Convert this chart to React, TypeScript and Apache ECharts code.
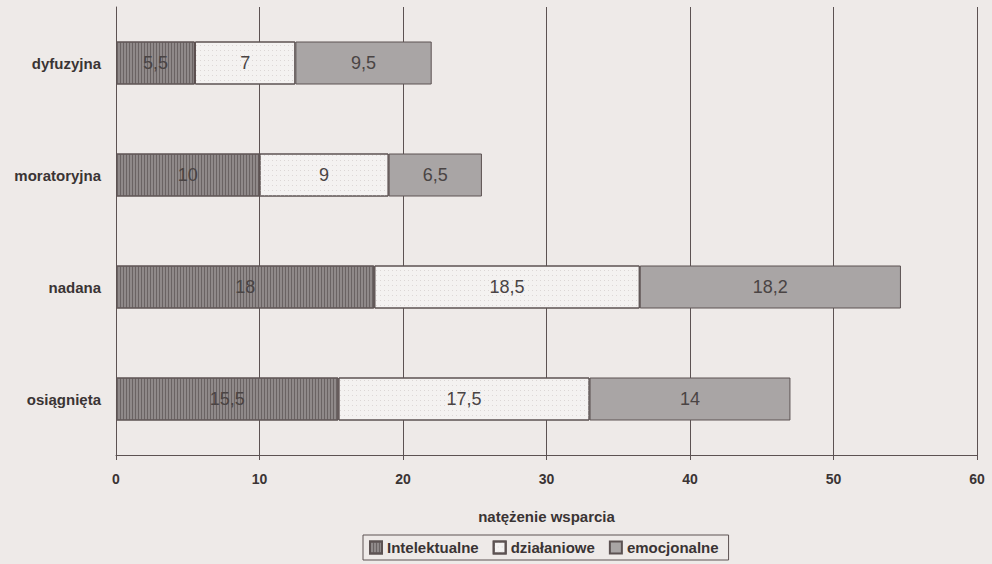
import React, { useEffect, useRef } from "react";
import * as echarts from "echarts";

const categories = ["dyfuzyjna", "moratoryjna", "nadana", "osiągnięta"];
const intelektualne = [5.5, 10, 18, 15.5];
const dzialaniowe = [7, 9, 18.5, 17.5];
const emocjonalne = [9.5, 6.5, 18.2, 14];
const seriesNames = ["Intelektualne", "działaniowe", "emocjonalne"];
const xTicks = [0, 10, 20, 30, 40, 50, 60];

const FONT = "'Liberation Sans', Arial, sans-serif";
const LINE = "#5c5252";

export default function App() {
  const ref = useRef<HTMLDivElement>(null);
  useEffect(() => {
    if (!ref.current) return;
    const chart = echarts.init(ref.current, undefined, { renderer: "svg" });
    const label = {
      show: true,
      position: "inside",
      color: "#4a4444",
      fontSize: 18,
      fontFamily: FONT,
      formatter: (p: any) => String(p.value).replace(".", ","),
    };
    const border = { borderColor: LINE, borderWidth: 1 };
    chart.setOption({
      animation: false,
      backgroundColor: "#eeeae8",
      textStyle: { fontFamily: FONT },
      grid: { left: 116, right: 15, top: 7, bottom: 109 },
      legend: {
        top: 535,
        left: 363,
        data: seriesNames,
        icon: "rect",
        itemWidth: 12,
        itemHeight: 12,
        itemGap: 14,
        padding: [5, 10, 5, 6],
        borderColor: LINE,
        borderWidth: 1,
        textStyle: { fontSize: 15, fontWeight: "bold", color: "#3a3434", fontFamily: FONT },
      },
      xAxis: {
        type: "value",
        min: xTicks[0],
        max: xTicks[xTicks.length - 1],
        interval: 10,
        name: "natężenie wsparcia",
        nameLocation: "middle",
        nameGap: 54,
        nameTextStyle: { fontSize: 15, fontWeight: "bold", color: "#3a3434", fontFamily: FONT },
        axisLine: { show: true, lineStyle: { color: LINE, width: 1 } },
        axisTick: { show: true, length: 5, lineStyle: { color: LINE } },
        splitLine: { show: true, lineStyle: { color: LINE, width: 1 } },
        axisLabel: { margin: 17, fontSize: 14, fontWeight: "bold", color: "#3a3434", fontFamily: FONT },
      },
      yAxis: {
        type: "category",
        inverse: true,
        data: categories,
        axisLine: { show: true, lineStyle: { color: LINE, width: 1 } },
        axisTick: { show: false },
        axisLabel: { margin: 15, fontSize: 15, fontWeight: "bold", color: "#3a3434", fontFamily: FONT },
      },
      series: [
        {
          name: seriesNames[0],
          type: "bar",
          stack: "s",
          barWidth: 43,
          data: intelektualne,
          label,
          itemStyle: {
            color: "#8f8989",
            ...border,
            decal: {
              symbol: "rect",
              symbolSize: 1,
              color: "#6a6363",
              dashArrayX: [1, 2],
              dashArrayY: [4, 0],
            },
          },
        },
        {
          name: seriesNames[1],
          type: "bar",
          stack: "s",
          barWidth: 43,
          data: dzialaniowe,
          label,
          itemStyle: {
            color: "#f4f2f1",
            ...border,
            decal: {
              symbol: "rect",
              symbolSize: 1,
              color: "#dcd7d6",
              dashArrayX: [1, 3],
              dashArrayY: [1, 4],
            },
          },
        },
        {
          name: seriesNames[2],
          type: "bar",
          stack: "s",
          barWidth: 43,
          data: emocjonalne,
          label,
          itemStyle: { color: "#a9a5a5", ...border },
        },
      ],
    });
    return () => chart.dispose();
  }, []);
  return (
    <div style={{ position: "absolute", left: 0, top: 0 }}>
      <div ref={ref} style={{ width: 992, height: 564 }} />
    </div>
  );
}
